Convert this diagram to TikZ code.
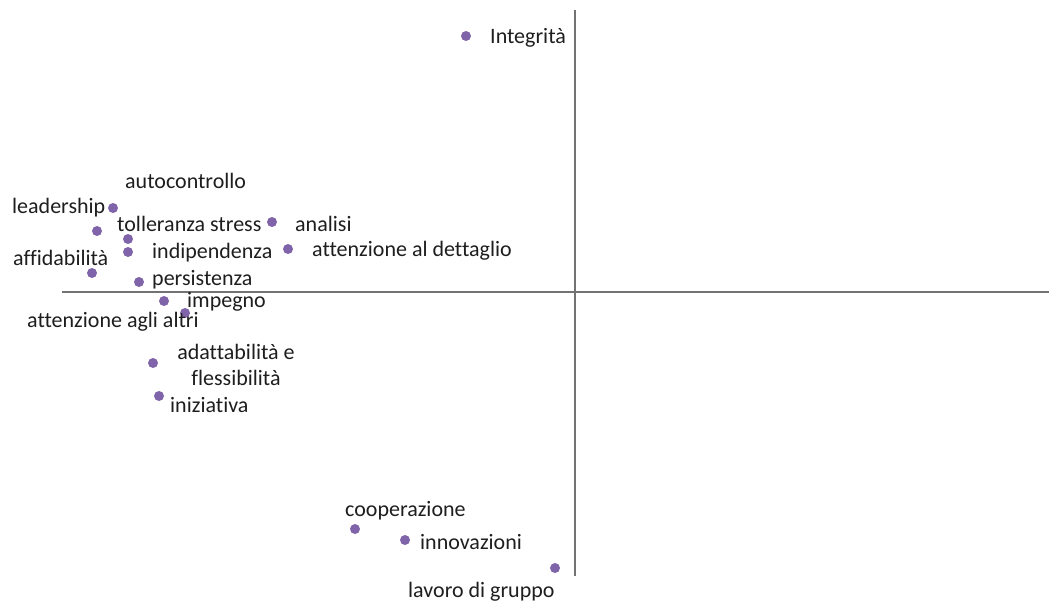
\documentclass[tikz,border=0pt]{standalone}
\usepackage{fontspec}
\setmainfont{Carlito}[Ligatures=NoCommon, Contextuals=NoAlternate]
\definecolor{dotpurple}{RGB}{128,100,170}
\definecolor{axisgray}{RGB}{115,115,115}
\definecolor{labelgray}{RGB}{30,30,30}
\tikzset{
item dot/.style={circle, fill=dotpurple, inner sep=0pt, minimum size=10pt}, % the points of the plot
item label/.style={anchor=west, inner sep=0pt, text=labelgray, font=\fontsize{22}{26}\selectfont}, % the texts beside the points
axis line/.style={draw=axisgray, line width=1.3pt},
}
\begin{document}
\begin{tikzpicture}[x=1pt, y=-1pt]
      \useasboundingbox (0,0) rectangle (1049,606);
      % axes
      \coordinate (xl) at (62,292);
      \coordinate (xr) at (1049,292);
      \coordinate (yt) at (575,10);
      \coordinate (yb) at (575,576);
      \draw[axis line] (xl) -- (xr);
      \draw[axis line] (yt) -- (yb);

      % points
      \node[item dot] (integ) at (466,36) {};
      \node[item dot] (lead) at (113,208) {};
      \node[item dot] (auto) at (97,231) {};
      \node[item dot] (toll) at (128,239) {};
      \node[item dot] (indip) at (128,252) {};
      \node[item dot] (affid) at (92,273) {};
      \node[item dot] (pers) at (139,282) {};
      \node[item dot] (anal) at (272,222) {};
      \node[item dot] (dett) at (288,249) {};
      \node[item dot] (impe) at (164,301) {};
      \node[item dot] (altri) at (185,313) {};
      \node[item dot] (adatt) at (153,363) {};
      \node[item dot] (inizi) at (159,396) {};
      \node[item dot] (coop) at (355,529) {};
      \node[item dot] (innov) at (405,540) {};
      \node[item dot] (grupp) at (555,568) {};

      % labels
      \node[item label] (integ-l) at (490,38) {Integrità};
      \node[item label] (auto-l) at (125,181) {autocontrollo};
      \node[item label] (lead-l) at (12,208) {leadership};
      \node[item label] (toll-l) at (117,224) {tolleranza stress};
      \node[item label] (anal-l) at (295,224) {analisi};
      \node[item label] (indip-l) at (152,253) {indipendenza};
      \node[item label] (dett-l) at (312,251) {attenzione al dettaglio};
      \node[item label] (affid-l) at (13,258) {affidabilità};
      \node[item label] (pers-l) at (152,280) {persistenza};
      \node[item label] (impe-l) at (187,302) {impegno};
      \node[item label] (altri-l) at (27,322) {attenzione agli altri};
      \node[item label, anchor=center, align=center] (adatt-l) at (236,365) {adattabilità e\\flessibilità};
      \node[item label] (inizi-l) at (170,405) {iniziativa};
      \node[item label] (coop-l) at (345,511) {cooperazione};
      \node[item label] (innov-l) at (420,542) {innovazioni};
      \node[item label] (grupp-l) at (408,592) {lavoro di gruppo};
\end{tikzpicture}
\end{document}
